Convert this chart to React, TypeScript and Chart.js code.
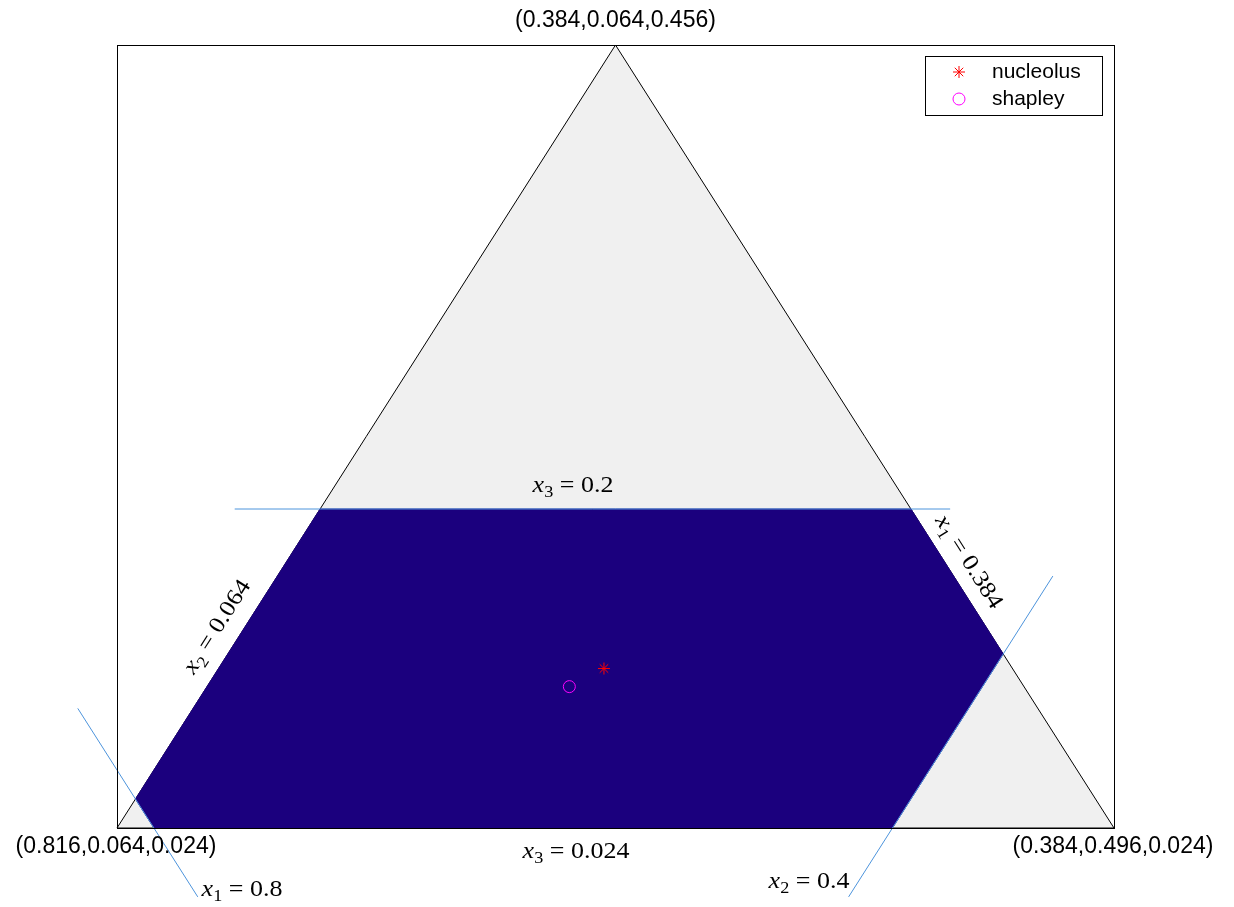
import React, { useEffect, useRef } from 'react';
import { Chart, registerables } from 'chart.js';

Chart.register(...registerables);

// ---- data (imputation vectors x = (x1, x2, x3)) ----
const lowerBounds = [0.384, 0.064, 0.024];
const span = 0.432;
const simplexVertices = [
  [0.816, 0.064, 0.024],
  [0.384, 0.496, 0.024],
  [0.384, 0.064, 0.456],
];
const vertexLabels = ['(0.816,0.064,0.024)', '(0.384,0.496,0.024)', '(0.384,0.064,0.456)'];
const coreVertices = [
  [0.64, 0.064, 0.2],
  [0.384, 0.32, 0.2],
  [0.384, 0.4, 0.12],
  [0.48, 0.4, 0.024],
  [0.8, 0.08, 0.024],
  [0.8, 0.064, 0.04],
];
const lineX1 = [
  [0.8, 0.118, -0.014],
  [0.8, 0.014, 0.09],
];
const lineX2 = [
  [0.518, 0.4, -0.014],
  [0.341, 0.4, 0.163],
];
const lineX3 = [
  [0.678, 0.027, 0.2],
  [0.367, 0.337, 0.2],
];
const nucleolus = [0.561, 0.231, 0.112];
const shapley = [0.581, 0.221, 0.102];
const seriesLabels = ['nucleolus', 'shapley'];
// math labels: variable, index, value
const mathLabels = [
  { v: 'x', i: '3', val: '0.2' },
  { v: 'x', i: '3', val: '0.024' },
  { v: 'x', i: '1', val: '0.8' },
  { v: 'x', i: '2', val: '0.4' },
  { v: 'x', i: '2', val: '0.064' },
  { v: 'x', i: '1', val: '0.384' },
];

// barycentric -> plot plane (bottom-left, bottom-right, top)
function toXY(p: number[]) {
  const t2 = (p[1] - lowerBounds[1]) / span;
  const t3 = (p[2] - lowerBounds[2]) / span;
  return { x: t2 + 0.5 * t3, y: t3 };
}
const closed = (arr: number[][]) => [...arr, arr[0]].map(toXY);

const CORE = '#1b007e';
const BLUE = '#4d94dc';
const SANS = '"Liberation Sans", Arial, sans-serif';
const SERIF = '"Liberation Serif", "Times New Roman", serif';

function drawMath(ctx: CanvasRenderingContext2D, lab: { v: string; i: string; val: string }, cx: number, cy: number, angle: number) {
  const fs = 23;
  const sx = 1.13;
  const parts = [
    { t: lab.v, font: `italic ${fs}px ${SERIF}`, dy: 0 },
    { t: lab.i, font: `${fs * 0.7}px ${SERIF}`, dy: fs * 0.24 },
    { t: ' = ' + lab.val, font: `${fs}px ${SERIF}`, dy: 0 },
  ];
  const widths = parts.map((p) => {
    ctx.font = p.font;
    return ctx.measureText(p.t).width;
  });
  const w = widths.reduce((a, b) => a + b, 0);
  ctx.save();
  ctx.translate(cx, cy);
  ctx.rotate(angle);
  ctx.scale(sx, 1);
  ctx.fillStyle = '#000';
  ctx.textAlign = 'left';
  ctx.textBaseline = 'alphabetic';
  let x = -w / 2;
  const base = fs * 0.34;
  parts.forEach((p, k) => {
    ctx.font = p.font;
    ctx.fillText(p.t, x, base + p.dy);
    x += widths[k];
  });
  ctx.restore();
}

const decorPlugin = {
  id: 'decor',
  beforeDatasetsDraw(chart: any) {
    const { ctx, chartArea: a } = chart;
    ctx.save();
    ctx.fillStyle = '#fff';
    ctx.fillRect(a.left, a.top, a.right - a.left, a.bottom - a.top);
    ctx.restore();
  },
  afterDraw(chart: any) {
    const { ctx, chartArea: a, scales } = chart;
    const xs = scales.x, ys = scales.y;
    const px = (p: number[]) => {
      const q = toXY(p);
      return [xs.getPixelForValue(q.x), ys.getPixelForValue(q.y)];
    };
    // axes box
    ctx.save();
    ctx.strokeStyle = '#000';
    ctx.lineWidth = 1;
    ctx.strokeRect(Math.round(a.left) + 0.5, Math.round(a.top) + 0.5, Math.round(a.right - a.left), Math.round(a.bottom - a.top));
    ctx.restore();

    // vertex labels
    ctx.save();
    ctx.font = `23px ${SANS}`;
    ctx.fillStyle = '#000';
    ctx.textAlign = 'center';
    ctx.textBaseline = 'middle';
    const [v0, v1, v2] = simplexVertices.map(px);
    ctx.fillText(vertexLabels[0], v0[0] - 1, v0[1] + 19);
    ctx.fillText(vertexLabels[1], v1[0] - 1, v1[1] + 19);
    ctx.fillText(vertexLabels[2], v2[0], v2[1] - 24);
    ctx.restore();

    // math labels
    const leftAngle = Math.atan2(v2[1] - v0[1], v2[0] - v0[0]);
    const rightAngle = Math.atan2(v1[1] - v2[1], v1[0] - v2[0]);
    drawMath(ctx, mathLabels[0], 573, 484, 0);
    drawMath(ctx, mathLabels[1], 576, 850, 0);
    drawMath(ctx, mathLabels[2], 242, 888, 0);
    drawMath(ctx, mathLabels[3], 809, 880, 0);
    drawMath(ctx, mathLabels[4], 216, 626, leftAngle);
    drawMath(ctx, mathLabels[5], 970, 561, rightAngle);

    // legend
    ctx.save();
    ctx.fillStyle = '#fff';
    ctx.fillRect(925, 56, 177, 59);
    ctx.strokeStyle = '#000';
    ctx.lineWidth = 1;
    ctx.strokeRect(925.5, 56.5, 177, 59);
    // star
    const sxp = 959, sy = 72, r = 6;
    ctx.strokeStyle = '#ff0000';
    ctx.beginPath();
    for (let k = 0; k < 4; k++) {
      const ang = (k * Math.PI) / 4;
      ctx.moveTo(sxp - r * Math.cos(ang), sy - r * Math.sin(ang));
      ctx.lineTo(sxp + r * Math.cos(ang), sy + r * Math.sin(ang));
    }
    ctx.stroke();
    // circle
    ctx.strokeStyle = '#ff00ff';
    ctx.beginPath();
    ctx.arc(959, 99, 6, 0, Math.PI * 2);
    ctx.stroke();
    ctx.fillStyle = '#000';
    ctx.font = `21px ${SANS}`;
    ctx.textAlign = 'left';
    ctx.textBaseline = 'middle';
    ctx.fillText(seriesLabels[0], 992, 72);
    ctx.fillText(seriesLabels[1], 992, 99);
    ctx.restore();
  },
};

export default function App() {
  const ref = useRef<HTMLCanvasElement>(null);
  useEffect(() => {
    document.body.style.margin = '0';
    const canvas = ref.current;
    if (!canvas) return;
    const lineBase = { type: 'line' as const, pointRadius: 0, tension: 0, fill: false, clip: false as any };
    const chart = new Chart(canvas, {
      type: 'scatter',
      data: {
        datasets: [
          {
            ...lineBase,
            label: 'simplex',
            data: closed(simplexVertices),
            fill: 'shape',
            backgroundColor: '#f0f0f0',
            borderColor: '#000',
            borderWidth: 1,
            order: 5,
          },
          {
            ...lineBase,
            label: 'core',
            data: closed(coreVertices),
            fill: 'shape',
            backgroundColor: CORE,
            borderColor: CORE,
            borderWidth: 1,
            order: 4,
          },
          { ...lineBase, label: 'x1', data: lineX1.map(toXY), borderColor: BLUE, borderWidth: 1, order: 3 },
          { ...lineBase, label: 'x2', data: lineX2.map(toXY), borderColor: BLUE, borderWidth: 1, order: 3 },
          { ...lineBase, label: 'x3', data: lineX3.map(toXY), borderColor: BLUE, borderWidth: 1, order: 3 },
          {
            type: 'scatter',
            label: seriesLabels[0],
            data: [toXY(nucleolus)],
            pointStyle: 'star',
            pointRadius: 6,
            borderColor: '#ff0000',
            backgroundColor: '#ff0000',
            borderWidth: 1,
            order: 1,
          },
          {
            type: 'scatter',
            label: seriesLabels[1],
            data: [toXY(shapley)],
            pointStyle: 'circle',
            pointRadius: 6,
            borderColor: '#ff00ff',
            backgroundColor: 'rgba(0,0,0,0)',
            borderWidth: 1,
            order: 1,
          },
        ] as any,
      },
      options: {
        animation: false,
        responsive: false,
        events: [],
        layout: { padding: { left: 117, right: 120, top: 45, bottom: 79 } },
        scales: {
          x: { type: 'linear', min: 0, max: 1, display: false },
          y: { type: 'linear', min: 0, max: 1, display: false },
        },
        plugins: { legend: { display: false }, tooltip: { enabled: false } },
      },
      plugins: [decorPlugin],
    });
    return () => chart.destroy();
  }, []);
  return <canvas ref={ref} width={1234} height={907} style={{ display: 'block' }} />;
}
